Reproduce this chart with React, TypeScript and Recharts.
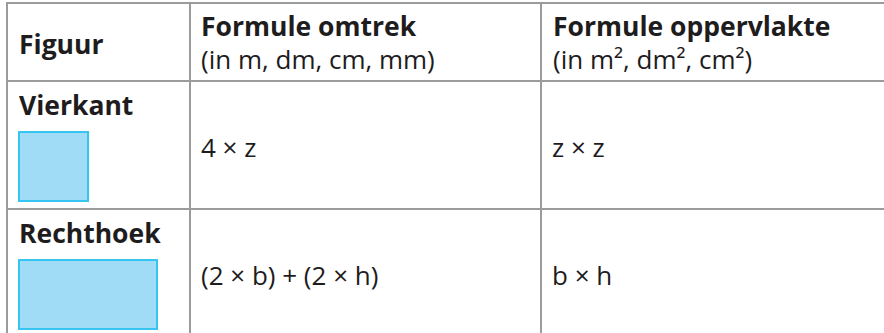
import React from 'react';
import { ScatterChart, Scatter, XAxis, YAxis, ReferenceLine, ReferenceArea } from 'recharts';

// ---- table content ----
const headers = ['Figuur', 'Formule omtrek', 'Formule oppervlakte'];
const headerUnits = ['', '(in m, dm, cm, mm)', '(in m², dm², cm²)'];
const shapeNames = ['Vierkant', 'Rechthoek'];
const perimeterFormulas = ['4 × z', '(2 × b) + (2 × h)'];
const areaFormulas = ['z × z', 'b × h'];
// relative width / height of the drawn figure (square 1:1, rectangle 2:1)
const figureWidths = [1, 2];
const figureHeights = [1, 1];

// ---- layout (chart units = pixels) ----
const W = 884;
const H = 333;
const colLines = [7, 190, 541];
const rowLines = [3, 81, 209];
const cellPadX = [12, 11, 12];
const titleBaseline = 33;
const unitBaseline = 66;
const figUnit = 69;
const figTopOffset = 51;
const formulaOffset = [76, 76];

const FONT = '"Open Sans", "Noto Sans", sans-serif';
const TEXT_COLOR = '#1e1c1d';
const LINE_COLOR = '#9b9b9b';
const BOLD_SIZE = 26.5;
const REG_SIZE = 26;

type Cell = { x: number; y: number; text: string; bold: boolean; size: number };

const cells: Cell[] = [];
headers.forEach((h, i) => {
  const x = colLines[i] + cellPadX[i];
  if (headerUnits[i]) {
    cells.push({ x, y: rowLines[0] + titleBaseline, text: h, bold: true, size: BOLD_SIZE });
    cells.push({ x, y: rowLines[0] + unitBaseline, text: headerUnits[i], bold: false, size: REG_SIZE });
  } else {
    cells.push({ x, y: rowLines[0] + 51, text: h, bold: true, size: BOLD_SIZE });
  }
});
shapeNames.forEach((s, r) => {
  const top = rowLines[r + 1];
  cells.push({ x: colLines[0] + cellPadX[0], y: top + 34, text: s, bold: true, size: BOLD_SIZE });
  cells.push({ x: colLines[1] + cellPadX[1], y: top + formulaOffset[r], text: perimeterFormulas[r], bold: false, size: REG_SIZE });
  cells.push({ x: colLines[2] + cellPadX[2] - 1, y: top + formulaOffset[r], text: areaFormulas[r], bold: false, size: REG_SIZE });
});

const renderText = (props: any) => {
  const { cx, cy, payload } = props;
  return (
    <text
      x={cx}
      y={cy}
      fontFamily={FONT}
      fontSize={payload.size}
      fontWeight={payload.bold ? 700 : 400}
      fill={TEXT_COLOR}
    >
      {payload.text}
    </text>
  );
};

export default function App() {
  return (
    <div style={{ position: 'absolute', left: 0, top: 0, width: W, height: H, background: '#fff' }}>
      <ScatterChart width={W} height={H} margin={{ top: 0, right: 0, bottom: 0, left: 0 }}>
        <XAxis type="number" dataKey="x" domain={[0, W]} hide allowDataOverflow />
        <YAxis type="number" dataKey="y" domain={[0, H]} reversed hide allowDataOverflow width={0} />
        {colLines.map((c) => (
          <ReferenceLine
            key={'c' + c}
            segment={[{ x: c, y: rowLines[0] }, { x: c, y: H }]}
            stroke={LINE_COLOR}
            strokeWidth={2}
            ifOverflow="visible"
          />
        ))}
        {rowLines.map((r) => (
          <ReferenceLine
            key={'r' + r}
            segment={[{ x: colLines[0] - 1, y: r }, { x: W, y: r }]}
            stroke={LINE_COLOR}
            strokeWidth={2}
            ifOverflow="visible"
          />
        ))}
        {shapeNames.map((s, r) => {
          const x1 = colLines[0] + cellPadX[0];
          const y1 = rowLines[r + 1] + figTopOffset;
          return (
            <ReferenceArea
              key={'f' + s}
              x1={x1}
              x2={x1 + figUnit * figureWidths[r]}
              y1={y1}
              y2={y1 + figUnit * figureHeights[r]}
              fill="#a0dcf6"
              fillOpacity={1}
              stroke="#36c5f0"
              strokeWidth={2}
              ifOverflow="visible"
            />
          );
        })}
        <Scatter data={cells} dataKey="y" shape={renderText} isAnimationActive={false} />
      </ScatterChart>
    </div>
  );
}
